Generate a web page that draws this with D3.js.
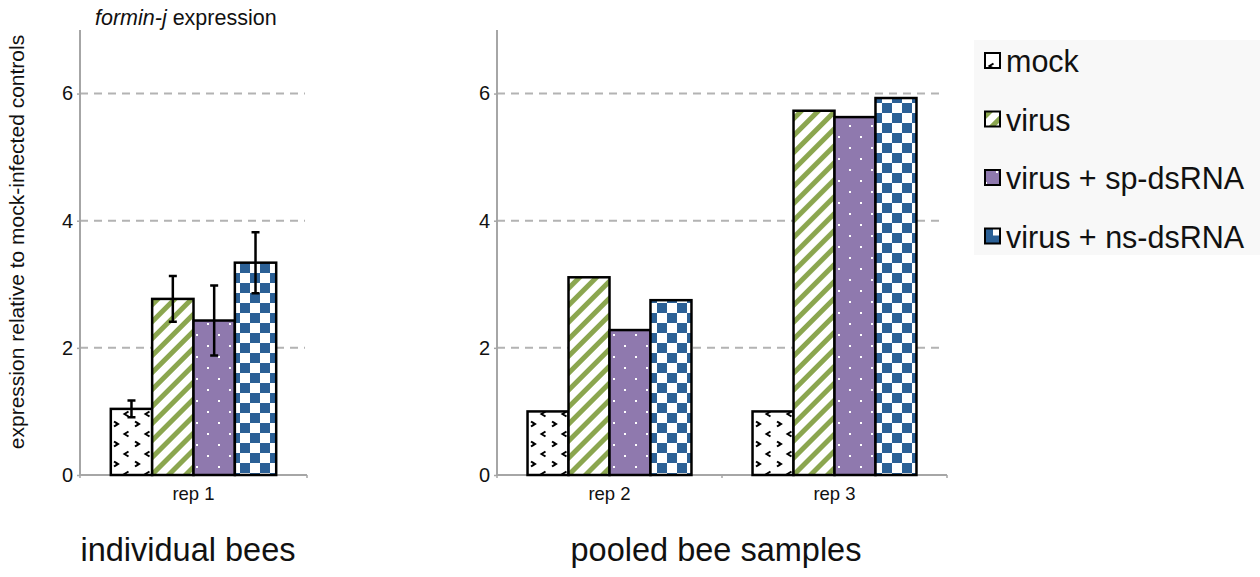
<!DOCTYPE html>
<html>
<head>
<meta charset="utf-8">
<script src="https://cdn.jsdelivr.net/npm/d3@7"></script>
<style>
  body { margin: 0; background: #fff; }
  svg { display: block; font-family: "Liberation Sans", Arial, sans-serif; }
</style>
</head>
<body>
<script>
const treatments = ["mock", "virus", "virus + sp-dsRNA", "virus + ns-dsRNA"];
const leftGroups = ["rep 1"];
const rightGroups = ["rep 2", "rep 3"];
const rep1Values = [1.04, 2.77, 2.43, 3.34];
const rep1Errors = [0.13, 0.36, 0.55, 0.48];
const rep2Values = [1.0, 3.11, 2.28, 2.75];
const rep3Values = [1.0, 5.73, 5.63, 5.93];
const yTicks = [0, 2, 4, 6];

const W = 1260, H = 577;
const svg = d3.select("body").append("svg").attr("width", W).attr("height", H);

// fill patterns
const defs = svg.append("defs");
const patIds = ["p-mock", "p-virus", "p-sp", "p-ns"];

const pm = defs.append("pattern").attr("id", "p-mock").attr("patternUnits", "userSpaceOnUse")
  .attr("width", 21).attr("height", 20).attr("x", 120).attr("y", 0);
pm.append("rect").attr("width", 21).attr("height", 20).attr("fill", "#fff");
const chev = (x, y, dir) => "M" + (x + 2 * dir) + "," + (y - 2.5) + "L" + (x - 2 * dir) + "," + y + "L" + (x + 2 * dir) + "," + (y + 2.5);
pm.append("path").attr("d", chev(0, 4, -1) + chev(21, 4, -1) + chev(10.5, 14, 1))
  .attr("fill", "none").attr("stroke", "#000").attr("stroke-width", 2);

const pv = defs.append("pattern").attr("id", "p-virus").attr("patternUnits", "userSpaceOnUse")
  .attr("width", 12).attr("height", 12).attr("patternTransform", "rotate(45)");
pv.append("rect").attr("width", 12).attr("height", 12).attr("fill", "#fff");
pv.append("rect").attr("width", 5).attr("height", 12).attr("fill", "#8ba64f");

const ps = defs.append("pattern").attr("id", "p-sp").attr("patternUnits", "userSpaceOnUse")
  .attr("width", 22).attr("height", 22).attr("x", 6).attr("y", 4);
ps.append("rect").attr("width", 22).attr("height", 22).attr("fill", "#8f79ae");
ps.append("rect").attr("x", 0).attr("y", 0).attr("width", 2).attr("height", 2).attr("fill", "#fff");
ps.append("rect").attr("x", 11).attr("y", 11).attr("width", 2).attr("height", 2).attr("fill", "#fff");

const pn = defs.append("pattern").attr("id", "p-ns").attr("patternUnits", "userSpaceOnUse")
  .attr("width", 20).attr("height", 20).attr("x", 0).attr("y", 3);
pn.append("rect").attr("width", 20).attr("height", 20).attr("fill", "#fff");
pn.append("rect").attr("width", 10).attr("height", 10).attr("fill", "#2b6096");
pn.append("rect").attr("x", 10).attr("y", 10).attr("width", 10).attr("height", 10).attr("fill", "#2b6096");

// legend swatch for ns: mostly blue with a white corner
const pnl = defs.append("pattern").attr("id", "p-ns-legend").attr("patternUnits", "objectBoundingBox")
  .attr("width", 1).attr("height", 1);
pnl.append("rect").attr("width", 15).attr("height", 15).attr("fill", "#2b6096");
pnl.append("rect").attr("x", 8).attr("y", 0).attr("width", 7).attr("height", 7).attr("fill", "#fff");

const y = d3.scaleLinear().domain([0, 7]).range([475, 30]);

function panel(x0, x1, groups, seriesByGroup, errorsByGroup) {
  const g = svg.append("g");
  const x = d3.scaleBand().domain(groups).range([x0, x1]).padding(0);
  const inner = d3.scaleBand().domain(treatments).range([0, x.bandwidth()]).paddingInner(0).paddingOuter(0.745);

  // gridlines
  g.selectAll(".grid").data(yTicks.filter(t => t > 0)).enter().append("line")
    .attr("x1", x0).attr("x2", x1 - 2)
    .attr("y1", d => y(d)).attr("y2", d => y(d))
    .attr("stroke", "#b3b3b3").attr("stroke-width", 2).attr("stroke-dasharray", "8,6");

  // y axis
  const ya = g.append("g").attr("transform", "translate(" + x0 + ",0)")
    .call(d3.axisLeft(y).tickValues(yTicks).tickFormat(d3.format("d")).tickSize(3).tickPadding(4));
  ya.attr("font-family", null);
  ya.select(".domain").attr("stroke", "#a6a6a6").attr("stroke-width", 2).attr("d", "M0," + y(7) + "V" + y(0));
  ya.selectAll(".tick line").attr("stroke", "#a6a6a6").attr("stroke-width", 1.5);
  ya.selectAll(".tick text").attr("font-size", 20).attr("fill", "#111");

  // x axis
  const xa = g.append("g").attr("transform", "translate(0," + y(0) + ")")
    .call(d3.axisBottom(x).tickSize(0).tickPadding(12));
  xa.attr("font-family", null);
  xa.select(".domain").attr("stroke", "#a6a6a6").attr("stroke-width", 2).attr("d", "M" + x0 + ",0H" + x1);
  xa.selectAll(".tick text").attr("font-size", 18.5).attr("fill", "#111");
  const edges = d3.range(groups.length + 1).map(i => x0 + i * x.step());
  g.selectAll(".edge").data(edges).enter().append("line")
    .attr("x1", d => d).attr("x2", d => d).attr("y1", y(0)).attr("y2", y(0) + 3)
    .attr("stroke", "#a6a6a6").attr("stroke-width", 1.5);

  groups.forEach((grp, gi) => {
    const vals = seriesByGroup[gi];
    const gg = g.append("g").attr("transform", "translate(" + x(grp) + ",0)");
    gg.selectAll("rect").data(vals).enter().append("rect")
      .attr("x", (d, i) => inner(treatments[i]))
      .attr("y", d => y(d))
      .attr("width", inner.bandwidth())
      .attr("height", d => y(0) - y(d))
      .attr("fill", (d, i) => "url(#" + patIds[i] + ")")
      .attr("stroke", "#000").attr("stroke-width", 2.5);
    const errs = errorsByGroup ? errorsByGroup[gi] : null;
    if (errs) {
      vals.forEach((v, i) => {
        const cx = x(grp) + inner(treatments[i]) + inner.bandwidth() / 2;
        const e = errs[i];
        g.append("path")
          .attr("d", "M" + cx + "," + y(v + e) + "V" + y(v - e) +
            "M" + (cx - 4) + "," + y(v + e) + "H" + (cx + 4) +
            "M" + (cx - 4) + "," + y(v - e) + "H" + (cx + 4))
          .attr("stroke", "#000").attr("stroke-width", 2.5).attr("fill", "none");
      });
    }
  });
}

panel(80, 307, leftGroups, [rep1Values], [rep1Errors]);
panel(497, 947, rightGroups, [rep2Values, rep3Values], null);

// titles
const title = svg.append("text").attr("x", 95).attr("y", 25).attr("font-size", 21.5).attr("fill", "#111");
title.append("tspan").attr("font-style", "italic").text("formin-j");
title.append("tspan").text(" expression");

svg.append("text").attr("transform", "translate(24,242) rotate(-90)")
  .attr("text-anchor", "middle").attr("font-size", 21).attr("fill", "#111")
  .text("expression relative to mock-infected controls");

svg.append("text").attr("x", 188).attr("y", 561).attr("text-anchor", "middle")
  .attr("font-size", 32.5).attr("fill", "#111").text("individual bees");
svg.append("text").attr("x", 716).attr("y", 561).attr("text-anchor", "middle")
  .attr("font-size", 32.5).attr("fill", "#111").text("pooled bee samples");

// legend
const legendIds = ["p-mock", "p-virus", "p-sp", "p-ns-legend"];
const lg = svg.append("g");
lg.append("rect").attr("x", 974).attr("y", 40).attr("width", 286).attr("height", 215).attr("fill", "#f8f8f8");
const rows = lg.selectAll(".row").data(treatments).enter().append("g")
  .attr("transform", (d, i) => "translate(0," + (72 + i * 58.5) + ")");
rows.append("rect").attr("x", 985).attr("y", -19).attr("width", 15).attr("height", 15)
  .attr("fill", (d, i) => "url(#" + legendIds[i] + ")")
  .attr("stroke", "#000").attr("stroke-width", 2);
rows.append("text").attr("x", 1006).attr("y", 0).attr("font-size", 30.5).attr("fill", "#111").text(d => d);
</script>
</body>
</html>
